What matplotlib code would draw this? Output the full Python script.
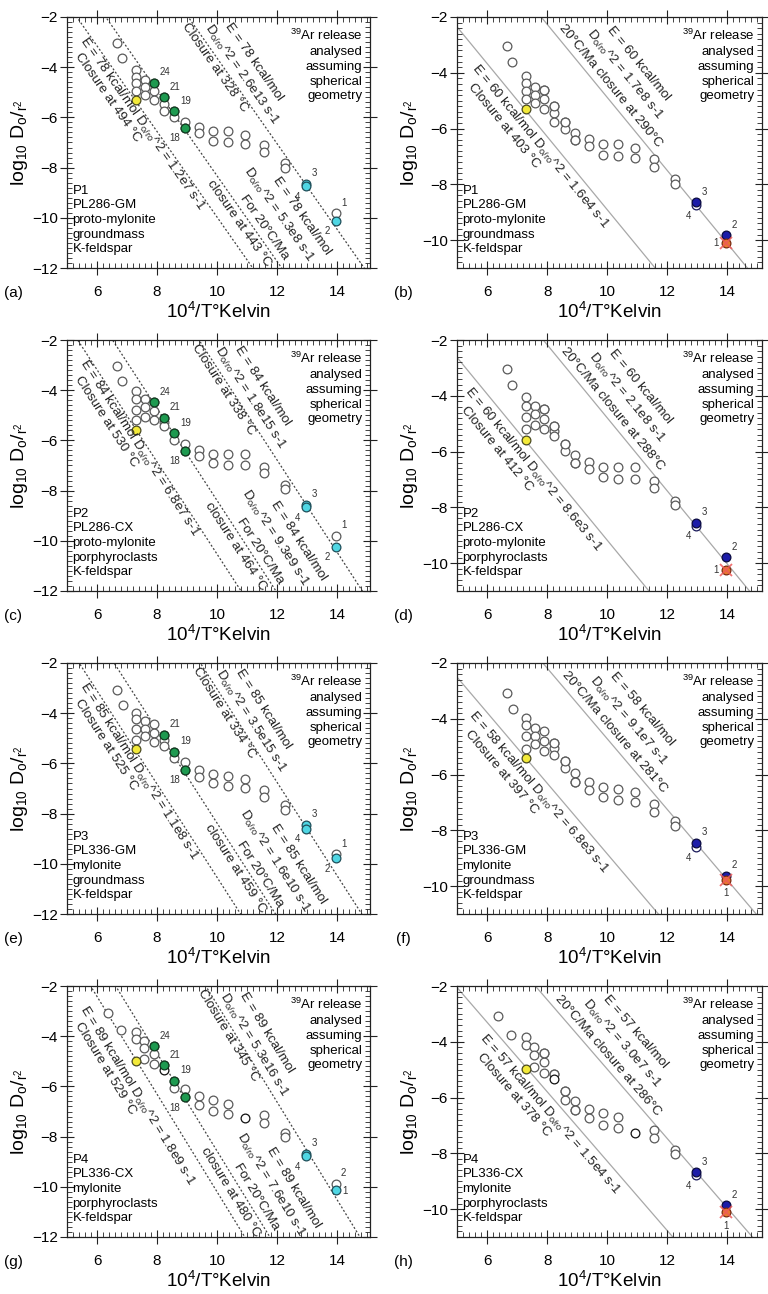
import numpy as np
import matplotlib
matplotlib.use("Agg")
import matplotlib.pyplot as plt
from matplotlib.ticker import MultipleLocator
from matplotlib import transforms

plt.rcParams['font.family'] = ['Liberation Sans', 'DejaVu Sans']
plt.rcParams['mathtext.fontset'] = 'custom'
plt.rcParams['mathtext.rm'] = 'Liberation Sans'
plt.rcParams['mathtext.it'] = 'Liberation Sans:italic'
plt.rcParams['mathtext.bf'] = 'Liberation Sans:bold'

# ------------------------------------------------------------------ data
R_CAL = 1.987
LN10 = np.log(10.0)

sample_text = [
    "P1\nPL286-GM\nproto-mylonite\ngroundmass\nK-feldspar",
    "P2\nPL286-CX\nproto-mylonite\nporphyroclasts\nK-feldspar",
    "P3\nPL336-GM\nmylonite\ngroundmass\nK-feldspar",
    "P4\nPL336-CX\nmylonite\nporphyroclasts\nK-feldspar",
]

# open-circle Arrhenius steps (10^4/T, log10 D/r^2)
p1_x = [6.68, 6.84, 7.31, 7.31, 7.31, 7.31, 7.60, 7.60, 7.60, 7.89, 7.89, 7.89,
        8.23, 8.23, 8.23, 8.58, 8.58, 8.94, 8.94, 9.40, 9.40, 9.86, 9.86,
        10.36, 10.36, 10.93, 10.93, 11.55, 11.55, 12.25, 12.25]
p1_y = [-3.05, -3.63, -4.12, -4.38, -4.64, -4.93, -4.52, -4.79, -5.10, -4.61, -4.94, -5.30,
        -5.20, -5.45, -5.75, -5.75, -6.00, -6.17, -6.41, -6.38, -6.62, -6.55, -6.95,
        -6.56, -6.98, -6.71, -7.07, -7.10, -7.37, -7.82, -8.00]
p2_x = p1_x
p2_y = [-3.04, -3.63, -4.05, -4.35, -4.77, -5.20, -4.36, -4.67, -5.05, -4.48, -4.83, -5.20,
        -5.09, -5.26, -5.44, -5.72, -5.98, -6.14, -6.42, -6.38, -6.64, -6.54, -6.92,
        -6.54, -6.98, -6.56, -6.98, -7.04, -7.31, -7.77, -7.92]
p3_x = [6.67, 6.87, 7.31, 7.31, 7.31, 7.31, 7.60, 7.60, 7.60, 7.89, 7.89, 7.89,
        8.23, 8.23, 8.23, 8.58, 8.58, 8.94, 8.94, 9.40, 9.40, 9.86, 9.86,
        10.36, 10.36, 10.93, 10.93, 11.55, 11.55, 12.25, 12.25]
p3_y = [-3.09, -3.66, -3.99, -4.23, -4.63, -5.08, -4.33, -4.63, -4.90, -4.45, -4.79, -5.15,
        -4.87, -5.05, -5.29, -5.53, -5.78, -5.96, -6.26, -6.26, -6.54, -6.44, -6.80,
        -6.50, -6.92, -6.62, -6.98, -7.04, -7.34, -7.65, -7.86]
p4_x = [6.37, 6.81, 7.31, 7.31, 7.57, 7.57, 7.57, 7.89, 7.89, 7.89,
        8.23, 8.58, 8.58, 8.94, 8.94, 9.40, 9.40, 9.86, 9.86,
        10.36, 10.36, 11.55, 11.55, 12.25, 12.25]
p4_y = [-3.08, -3.77, -3.83, -4.10, -4.19, -4.48, -4.90, -4.40, -4.72, -5.11,
        -5.16, -5.77, -6.07, -6.11, -6.43, -6.40, -6.73, -6.55, -6.97,
        -6.71, -7.09, -7.15, -7.45, -7.87, -8.02]
p4_dark_x = [8.23, 10.93]
p4_dark_y = [-5.34, -7.27]

yellow_x = [7.31, 7.31, 7.31, 7.31]
yellow_y = [-5.30, -5.59, -5.41, -4.99]

green_x = [[7.89, 8.23, 8.58, 8.94], [7.89, 8.23, 8.58, 8.94],
           [8.23, 8.58, 8.94], [7.89, 8.23, 8.58, 8.94]]
green_y = [[-4.61, -5.20, -5.75, -6.41], [-4.48, -5.09, -5.72, -6.42],
           [-4.87, -5.53, -6.26], [-4.40, -5.16, -5.77, -6.43]]
green_lab = [['24', '21', '19', '18'], ['24', '21', '19', '18'],
             ['21', '19', '18'], ['24', '21', '19', '18']]

# lowest-temperature steps: [step3, step4, upper@~14, lower@~14]
low_x = [12.97, 12.97, 13.95, 13.95]
low_y = [[-8.65, -8.75, -9.82, -10.12], [-8.56, -8.66, -9.79, -10.24],
         [-8.45, -8.60, -9.62, -9.78], [-8.68, -8.78, -9.87, -10.12]]
low_lab_left = [['3', '4', '1', '2'], ['3', '4', '1', '2'], ['3', '4', '1', '2'], ['3', '4', '2', '1']]
low_lab_right = [['3', '4', '2', '1']] * 4
low_pos_left = [['UR', 'LL', 'UR', 'LL'], ['UR', 'LL', 'UR', 'LL'],
                ['UR', 'LL', 'UR', 'LL'], ['UR', 'LL', 'UR', 'R']]
low_pos_right = [['UR', 'LL', 'UR', 'L'], ['UR', 'LL', 'UR', 'L'],
                 ['UR', 'LL', 'UR', 'B'], ['UR', 'LL', 'UR', 'B']]

# Arrhenius fits, left column (three lines), right column (two lines)
left_E = [78, 84, 85, 89]
left_D0 = [['1.2e7', '5.3e8', '2.6e13'], ['6.8e7', '9.3e9', '1.8e15'],
           ['1.1e8', '1.6e10', '3.5e15'], ['1.8e9', '7.6e10', '5.3e16']]
left_Tc = [['494', '443', '328'], ['530', '464', '338'],
           ['525', '459', '334'], ['529', '480', '345']]
right_E = [60, 60, 58, 57]
right_D0 = [['1.6e4', '1.7e8'], ['8.6e3', '2.1e8'], ['6.8e3', '9.1e7'], ['1.5e4', '3.0e7']]
right_Tc = [['403', '290'], ['412', '288'], ['397', '281'], ['378', '286']]

left_letters = ['(a)', '(c)', '(e)', '(g)']
right_letters = ['(b)', '(d)', '(f)', '(h)']

# ------------------------------------------------------------------ layout
W, H = 768.0, 1294.0
fig = plt.figure(figsize=(W / 100, H / 100), dpi=100)
col_left = [67, 457]
col_w = [303, 305]
row_top = [17, 340, 663, 986]
AX_H = 251

C_OPEN = '#5a5a5a'
DO = r'D$_{\mathregular{o/ro}}$^2'
FS_ANN = 9.6


def make_ax(r, c):
    ax = fig.add_axes([col_left[c] / W, 1 - (row_top[r] + AX_H) / H, col_w[c] / W, AX_H / H])
    ax.set_xlim(5, 15.1 if c == 0 else 15.15)
    ax.set_ylim(-12 if c == 0 else -11, -2)
    ax.xaxis.set_major_locator(MultipleLocator(2))
    ax.yaxis.set_major_locator(MultipleLocator(2))
    ax.xaxis.set_minor_locator(MultipleLocator(0.2))
    ax.yaxis.set_minor_locator(MultipleLocator(0.2))
    ax.tick_params(which='both', top=True, right=True, color='#222222')
    ax.tick_params(which='major', direction='inout', length=10, width=0.8, labelsize=11)
    ax.tick_params(which='minor', direction='in', length=3.5, width=0.6)
    ax.tick_params(axis='x', which='major', pad=7)
    ax.tick_params(axis='y', which='major', pad=1.5)
    if c == 1:
        ax.set_yticks([-2, -4, -6, -8, -10])
    for s in ax.spines.values():
        s.set_linewidth(0.9)
        s.set_color('#222222')
    w = col_w[c]
    ax.text(0.5, -44 / AX_H, r'$\mathregular{10^4/}$T°Kelvin', transform=ax.transAxes,
            ha='center', va='center', fontsize=13.5)
    ax.text(-47 / w, 0.5, r'$\mathregular{log_{10}\ D_o/_{r^2}}$', transform=ax.transAxes,
            ha='center', va='center', rotation=90, fontsize=14)
    ax.text(0.975, 0.955, r'$\mathregular{^{39}}$Ar release' + '\nanalysed\nassuming\nspherical\ngeometry',
            transform=ax.transAxes, ha='right', va='top', multialignment='right',
            fontsize=9.5, linespacing=1.3, zorder=6)
    return ax


def fit_line(ax, E, D0, style):
    xs = np.array(ax.get_xlim())
    ys = np.log10(D0) - E / (R_CAL * LN10 * 10.0) * xs
    if style == 'dot':
        ax.plot(xs, ys, color='#444444', lw=0.9, ls=(0, (1.6, 1.6)), zorder=1)
    else:
        ax.plot(xs, ys, color='#a8a8a8', lw=0.9, zorder=1)


def screen_angle(ax, E):
    slope = -E / (R_CAL * LN10 * 10.0)
    p0 = ax.transData.transform((8.0, -6.0))
    p1 = ax.transData.transform((9.0, -6.0 + slope))
    return np.degrees(np.arctan2(p1[1] - p0[1], p1[0] - p0[0]))


def line_text(ax, E, D0, yfoot, off_pt, txt, ha='center'):
    """Text laid along an Arrhenius line; foot point given by its log D value,
    shifted perpendicular to the line by off_pt (positive = upper right)."""
    slope = -E / (R_CAL * LN10 * 10.0)
    xfoot = (yfoot - np.log10(D0)) / slope
    ang = screen_angle(ax, E)
    th = np.radians(ang)
    tr = transforms.offset_copy(ax.transData, fig=fig, x=-off_pt * np.sin(th),
                                y=off_pt * np.cos(th), units='points')
    ax.text(xfoot, yfoot, txt, transform=tr, rotation=ang, rotation_mode='anchor',
            ha=ha, va='center', fontsize=FS_ANN, color='#222222', zorder=5)


def free_text(ax, E, x, y, txt):
    ang = screen_angle(ax, E)
    ax.text(x, y, txt, rotation=ang, rotation_mode='anchor', ha='left', va='center',
            fontsize=FS_ANN, color='#222222', zorder=5)


OFFS = {'UR': (4, 4, 'left', 'bottom'), 'LL': (-4, -4, 'right', 'top'),
        'L': (-5, 0, 'right', 'center'), 'B': (0, -6, 'center', 'top'),
        'R': (5, -1, 'left', 'center')}


def num_label(ax, x, y, s, pos):
    dx, dy, ha, va = OFFS[pos]
    tr = transforms.offset_copy(ax.transData, fig=fig, x=dx, y=dy, units='points')
    ax.text(x, y, s, transform=tr, ha=ha, va=va, fontsize=7, color='#333333', zorder=6)


def dot(ax, x, y, fc, ec, z=3, ms=6.3):
    ax.plot(x, y, 'o', ms=ms, mfc=fc, mec=ec, mew=0.9, ls='none', zorder=z)


all_x = [p1_x, p2_x, p3_x, p4_x]
all_y = [p1_y, p2_y, p3_y, p4_y]

for r in range(4):
    # ---------------- left column (dotted fits, coloured steps)
    ax = make_ax(r, 0)
    E = left_E[r]
    D = left_D0[r]
    T = left_Tc[r]
    for d in D:
        fit_line(ax, E, float(d), 'dot')
    dot(ax, all_x[r], all_y[r], 'white', C_OPEN)
    if r == 3:
        dot(ax, p4_dark_x, p4_dark_y, 'white', '#111111')
    dot(ax, yellow_x[r], yellow_y[r], '#f3ea3a', '#4a4a20', z=4)
    dot(ax, green_x[r], green_y[r], '#1e9a50', '#0f3a1f', z=4)
    for gx, gy, gl in zip(green_x[r], green_y[r], green_lab[r]):
        num_label(ax, gx, gy, gl, 'LL' if gl == '18' else 'UR')
    ly = low_y[r]
    dot(ax, low_x[0:2], ly[0:2], '#4fd6e3', '#1f4f5a', z=4)
    dot(ax, low_x[2], ly[2], 'white', C_OPEN, z=4)
    dot(ax, low_x[3], ly[3], '#4fd6e3', '#1f4f5a', z=4)
    for lx, lyy, lab, pos in zip(low_x, ly, low_lab_left[r], low_pos_left[r]):
        num_label(ax, lx, lyy, lab, pos)
    # text along the fits
    free_text(ax, E, 5.50, -2.85, f'E = {E} kcal/mol {DO} = {D[0]} s-1')
    free_text(ax, E, 5.35, -3.50, f'Closure at {T[0]} °C')
    for yf, off, s in [(-11.0, 33.5, f'E = {E} kcal/mol'), (-10.5, 20.0, f'{DO} = {D[1]} s-1'),
                       (-10.6, 6.5, 'For 20°C/Ma'), (-10.0, -7.0, f'closure at {T[1]} °C')]:
        line_text(ax, E, float(D[1]), yf, off, s)
    line_text(ax, E, float(D[2]), -4.43, 20.2, f'E = {E} kcal/mol')
    line_text(ax, E, float(D[2]), -4.56, 7.6, f'{DO} = {D[2]} s-1')
    line_text(ax, E, float(D[2]), -3.84, -5.0, f'Closure at {T[2]} °C')
    ax.text(0.018, 0.05, sample_text[r], transform=ax.transAxes, ha='left', va='bottom',
            fontsize=9.5, linespacing=1.3, zorder=6)
    ax.text((13 - 67) / 303, -25 / AX_H, left_letters[r], transform=ax.transAxes,
            ha='center', va='center', fontsize=11)

    # ---------------- right column (solid fits)
    ax = make_ax(r, 1)
    E = right_E[r]
    D = right_D0[r]
    T = right_Tc[r]
    for d in D:
        fit_line(ax, E, float(d), 'solid')
    dot(ax, all_x[r], all_y[r], 'white', C_OPEN)
    dot(ax, green_x[r], green_y[r], 'white', C_OPEN)
    if r == 3:
        dot(ax, p4_dark_x, p4_dark_y, 'white', '#111111')
    dot(ax, yellow_x[r], yellow_y[r], '#f3ea3a', '#4a4a20', z=4)
    ly = low_y[r]
    dot(ax, low_x[1], ly[1], 'white', '#1a1a5a', z=4)
    dot(ax, low_x[0], ly[0], '#1c1ca8', '#0a0a40', z=4)
    dot(ax, low_x[2], ly[2], '#1c1ca8', '#0a0a40', z=4)
    dot(ax, low_x[3], ly[3], '#e87a2c', '#7a2a10', z=4)
    ax.plot(low_x[3], ly[3], 'x', ms=9, mec='#ee5a5a', mew=1.3, alpha=0.85, zorder=5)
    for lx, lyy, lab, pos in zip(low_x, ly, low_lab_right[r], low_pos_right[r]):
        num_label(ax, lx, lyy, lab, pos)
    line_text(ax, E, float(D[0]), -3.49, -9.0, f'E = {E} kcal/mol {DO} = {D[0]} s-1', ha='left')
    line_text(ax, E, float(D[0]), -3.83, -19.5, f'Closure at {T[0]} °C', ha='left')
    for off, s in [(33.0, f'E = {E} kcal/mol'), (20.0, f'{DO} = {D[1]} s-1'),
                   (7.0, f'20°C/Ma closure at {T[1]}°C')]:
        line_text(ax, E, float(D[1]), -4.71, off, s)
    ax.text(0.018, 0.05, sample_text[r], transform=ax.transAxes, ha='left', va='bottom',
            fontsize=9.5, linespacing=1.3, zorder=6)
    ax.text((403 - 457) / 305, -25 / AX_H, right_letters[r], transform=ax.transAxes,
            ha='center', va='center', fontsize=11)

fig.savefig('out.png', dpi=100)
